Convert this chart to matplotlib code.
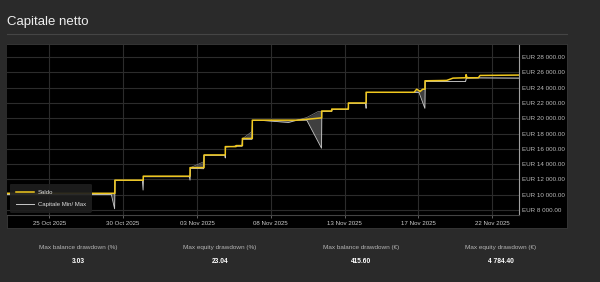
import matplotlib
matplotlib.use("Agg")
import matplotlib.pyplot as plt
from matplotlib.patches import Rectangle
from matplotlib.lines import Line2D

plt.rcParams['font.family'] = ['Liberation Sans', 'DejaVu Sans']

# posizioni asse x (unita' del grafico, un tick ogni 5)
tick_pos = [0, 5, 10, 15, 20, 25, 30]
tick_labels = ["25 Oct 2025", "30 Oct 2025", "03 Nov 2025", "08 Nov 2025",
               "13 Nov 2025", "17 Nov 2025", "22 Nov 2025"]
y_ticks = list(range(8000, 28001, 2000))

# Saldo (balance)
bal_t = [-2.87, 4.44, 4.44, 6.36, 6.36, 9.53, 9.53, 10.48, 10.48, 11.92, 11.92,
         12.65, 12.65, 13.08, 13.08, 13.75, 13.75, 16.78, 17.4, 18.45, 18.45,
         19.13, 19.13, 20.26, 20.26, 21.46, 21.46, 24.71, 24.89, 25.12, 25.3,
         25.45, 25.45, 26.92, 27.35, 28.23, 28.23, 28.3, 29.07, 29.18, 31.82]
bal_v = [10180, 10180, 11900, 11900, 12420, 12420, 13540, 13540, 15200, 15200, 16290,
         16290, 16420, 16420, 17360, 17360, 19750, 19750, 19850, 20050, 20950,
         20950, 21200, 21200, 22000, 22000, 23400, 23400, 23800, 23500, 23800,
         23800, 24900, 24950, 25250, 25300, 25700, 25300, 25300, 25600, 25650]

# Capitale min / max (equity)
eq_t = [-2.87, 4.20, 4.42, 4.45, 6.30, 6.35, 6.38, 9.48, 9.53, 9.56, 10.45, 10.48,
        11.88, 11.92, 11.95, 12.65, 13.05, 13.08, 13.11, 13.72, 13.76, 14.50,
        16.20, 16.78, 17.44, 18.20, 18.44, 18.46, 19.13, 19.16, 20.24, 20.28,
        21.42, 21.46, 21.50, 24.70, 25.05, 25.44, 25.47, 28.20, 28.25, 29.10, 31.82]
eq_lo = [10020, 10020, 8150, 11850, 11850, 10600, 12350, 12350, 11900, 13450, 13400, 15150,
         15150, 14800, 16250, 16350, 16350, 17170, 17250, 17250, 19700, 19700,
         19450, 19750, 19750, 16960, 16080, 20900, 20900, 21150, 21150, 21950,
         21950, 21300, 23380, 23380, 23350, 21300, 24800, 24800, 25250, 25280, 25250]
eq_hi = [10020, 10020, 10020, 11850, 11850, 11850, 12350, 12350, 12350, 13540, 14300, 15150,
         15150, 15150, 16250, 16350, 16350, 17360, 17360, 18250, 19700, 19700,
         19600, 19750, 20100, 20870, 20900, 20900, 20900, 21150, 21150, 21950,
         21950, 21950, 23380, 23380, 23600, 23800, 24800, 24800, 25250, 25280, 25250]

stat_titles = ["Max balance drawdown (%)", "Max equity drawdown (%)",
               "Max balance drawdown (€)", "Max equity drawdown (€)"]
stat_values = ["3.03", "23.04", "415.60", "4 784.40"]

bg = '#2a2a2a'
yellow = '#f0c81e'
W, H = 600, 282

fig = plt.figure(figsize=(6, 2.82), dpi=100, facecolor=bg)

# titolo e linea divisoria
fig.text(7 / W, 1 - 22 / H, "Capitale netto", color='#eeeeee', fontsize=9.5,
         ha='left', va='center')
fig.add_artist(Line2D([7 / W, 567 / W], [1 - 34 / H, 1 - 34 / H],
                      color='#454545', lw=0.8))

# pannello nero
fig.add_artist(Rectangle((7 / W, 1 - 228 / H), 560 / W, 184 / H, facecolor='black',
                         edgecolor='#3a3a3a', lw=0.6, zorder=0))

ax = fig.add_axes([7 / W, 1 - 215 / H, 512 / W, 170.5 / H])
ax.set_facecolor('black')

ax.fill_between(eq_t, eq_lo, eq_hi, color='#6a6a6a', alpha=0.6, lw=0, zorder=2)
ax.plot(eq_t, eq_hi, color='#808080', lw=0.5, zorder=3)
ax.plot(eq_t, eq_lo, color='#c8c8c8', lw=0.6, zorder=3)
ax.plot(bal_t, bal_v, color=yellow, lw=1.1, zorder=4)

ax.set_xlim(-2.87, 31.82)
ax.set_ylim(7340, 29650)

ax.set_xticks(tick_pos)
ax.set_xticklabels(tick_labels)
ax.set_yticks(y_ticks)
ax.set_yticklabels(["EUR {:,}.00".format(v).replace(",", " ") for v in y_ticks])
ax.yaxis.tick_right()
ax.tick_params(axis='x', colors='#cccccc', labelsize=4.4, length=2, width=0.5,
               pad=2, color='#888888')
ax.tick_params(axis='y', colors='#bbbbbb', labelsize=4.5, length=0, pad=2.5)
ax.grid(True, color='#2c2c2c', lw=0.8)
ax.set_axisbelow(True)

for s in ['top', 'left']:
    ax.spines[s].set_visible(False)
ax.spines['right'].set_color('#a0a0a0')
ax.spines['right'].set_linewidth(0.8)
ax.spines['bottom'].set_color('#444444')
ax.spines['bottom'].set_linewidth(0.8)

handles = [Line2D([], [], color=yellow, lw=1.1), Line2D([], [], color='#c8c8c8', lw=0.7)]
leg = ax.legend(handles, ["Saldo", "Capitale Min/ Max"], loc='lower left',
                bbox_to_anchor=(0.006, 0.014), fontsize=4.3, frameon=True,
                facecolor='#1e1e1e', edgecolor='none', framealpha=0.92,
                handlelength=3.0, handletextpad=0.6, labelspacing=1.1,
                borderpad=1.0, borderaxespad=0)
for t in leg.get_texts():
    t.set_color('#dddddd')
leg.set_zorder(10)

# statistiche in basso
stat_x = [78, 220, 361, 501]
for x, title, val in zip(stat_x, stat_titles, stat_values):
    fig.text(x / W, 1 - 247.5 / H, title, color='#b5b5b5', fontsize=4.6,
             ha='center', va='center')
    fig.text(x / W, 1 - 261.5 / H, val, color='#ffffff', fontsize=4.8,
             ha='center', va='center', fontweight='bold')

fig.savefig("out.png", dpi=100, facecolor=bg)
